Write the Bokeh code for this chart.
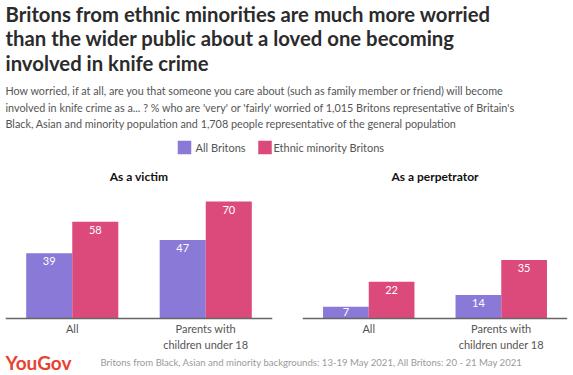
from bokeh.plotting import figure
from bokeh.layouts import column, row
from bokeh.models import Range1d, FactorRange, ColumnDataSource, Span
from bokeh.transform import dodge
from bokeh.core.properties import value
from bokeh.embed import file_html
from bokeh.resources import INLINE

# ---------------- data ----------------
categories = ["All", "Parents with children under 18"]
category_labels = ["All", "Parents with\nchildren under 18"]
series_names = ["All Britons", "Ethnic minority Britons"]
victim_all = [39, 47]
victim_ethnic = [58, 70]
perp_all = [7, 14]
perp_ethnic = [22, 35]
panel_titles = ["As a victim", "As a perpetrator"]

title_lines = [
    "Britons from ethnic minorities are much more worried",
    "than the wider public about a loved one becoming",
    "involved in knife crime",
]
subtitle_lines = [
    "How worried, if at all, are you that someone you care about (such as family member or friend) will become",
    "involved in knife crime as a... ? % who are 'very' or 'fairly' worried of 1,015 Britons representative of Britain's",
    "Black, Asian and minority population and 1,708 people representative of the general population",
]
source_text = "Britons from Black, Asian and minority backgrounds: 13-19 May 2021, All Britons: 20 - 21 May 2021"

PURPLE = "#8a79d6"
PINK = "#dc4a7c"
FONT = "Lato"
W = 573
PX_PER_UNIT = 1.67


def blank(width, height):
    f = figure(width=width, height=height, x_range=Range1d(0, width), y_range=Range1d(height, 0),
               output_backend="svg", toolbar_location=None, min_border=0)
    f.axis.visible = False
    f.grid.visible = False
    f.outline_line_color = None
    return f


# ---------------- header ----------------
HH = 160
header = blank(W, HH)
header.text(x=[5, 5, 5], y=[13, 37, 62], text=title_lines, text_font=value(FONT),
            text_font_style="bold", text_font_size="20.3px", text_color="#2b2b2b",
            text_baseline="middle", text_align="left")
header.text(x=[5, 5, 5], y=[90, 107, 123], text=subtitle_lines, text_font=value(FONT),
            text_font_size="10.8px", text_color="#555555",
            text_baseline="middle", text_align="left")
header.rect(x=[184, 264.5], y=[147, 147], width=13.5, height=13.5,
            fill_color=[PURPLE, PINK], line_color=None)
header.text(x=[195, 273], y=[147, 147], text=series_names, text_font=value(FONT),
            text_font_size="11px", text_color="#555555",
            text_baseline="middle", text_align="left")


# ---------------- panels ----------------
PH = 190          # panel height
TOP = 28          # space above plotting frame (panel title)
ZERO = 158        # baseline position from the panel top


def panel(title, vals_all, vals_eth, width, left, right):
    p = figure(width=width, height=PH, x_range=FactorRange(*categories, range_padding=0),
               y_range=Range1d(-(PH - ZERO) / PX_PER_UNIT, (ZERO - TOP) / PX_PER_UNIT),
               output_backend="svg", toolbar_location=None,
               min_border_left=left, min_border_right=right, min_border_top=TOP,
               min_border_bottom=0, title=title)
    p.title.align = "center"
    p.title.text_font = FONT
    p.title.text_font_size = "12px"
    p.title.text_font_style = "bold"
    p.title.text_color = "#111111"
    p.grid.visible = False
    p.axis.visible = False
    p.outline_line_color = None
    src = ColumnDataSource(dict(cat=categories, a=vals_all, e=vals_eth,
                                la=[str(v) for v in vals_all], le=[str(v) for v in vals_eth],
                                oa=[4 if v > 10 else 1 for v in vals_all],
                                oe=[4 if v > 10 else 1 for v in vals_eth],
                                lab=category_labels, zero=[0, 0]))
    w = 0.345
    p.vbar(x=dodge("cat", -w / 2, range=p.x_range), top="a", width=w, source=src,
           fill_color=PURPLE, line_color=None)
    p.vbar(x=dodge("cat", w / 2, range=p.x_range), top="e", width=w, source=src,
           fill_color=PINK, line_color=None)
    p.text(x=dodge("cat", -w / 2, range=p.x_range), y="a", text="la", y_offset="oa", source=src,
           text_align="center", text_baseline="top", text_color="white",
           text_font=value(FONT), text_font_size="11px")
    p.text(x=dodge("cat", w / 2, range=p.x_range), y="e", text="le", y_offset="oe", source=src,
           text_align="center", text_baseline="top", text_color="white",
           text_font=value(FONT), text_font_size="11px")
    # category axis: baseline and labels
    p.add_layout(Span(location=0, dimension="width", line_color="#666666", line_width=1.5))
    p.text(x="cat", y="zero", text="lab", source=src, y_offset=3,
           text_align="center", text_baseline="top", text_color="#555555",
           text_font=value(FONT), text_font_size="11px", text_line_height=1.25)
    return p


left = panel(panel_titles[0], victim_all, victim_ethnic, 287, 5, 15)
right = panel(panel_titles[1], perp_all, perp_ethnic, 286, 15, 6)

# ---------------- footer ----------------
footer = blank(W, 25)
footer.text(x=[5], y=[12], text=["YouGov"], text_font=value(FONT), text_font_style="bold",
            text_font_size="19px", text_color="#e8412f", text_baseline="middle")
footer.text(x=[100], y=[12], text=[source_text], text_font=value(FONT),
            text_font_size="9.6px", text_color="#9a9a9a", text_baseline="middle")

layout = column(header, row(left, right, spacing=0), footer, spacing=0)
open("out.html", "w").write(file_html(layout, INLINE))
